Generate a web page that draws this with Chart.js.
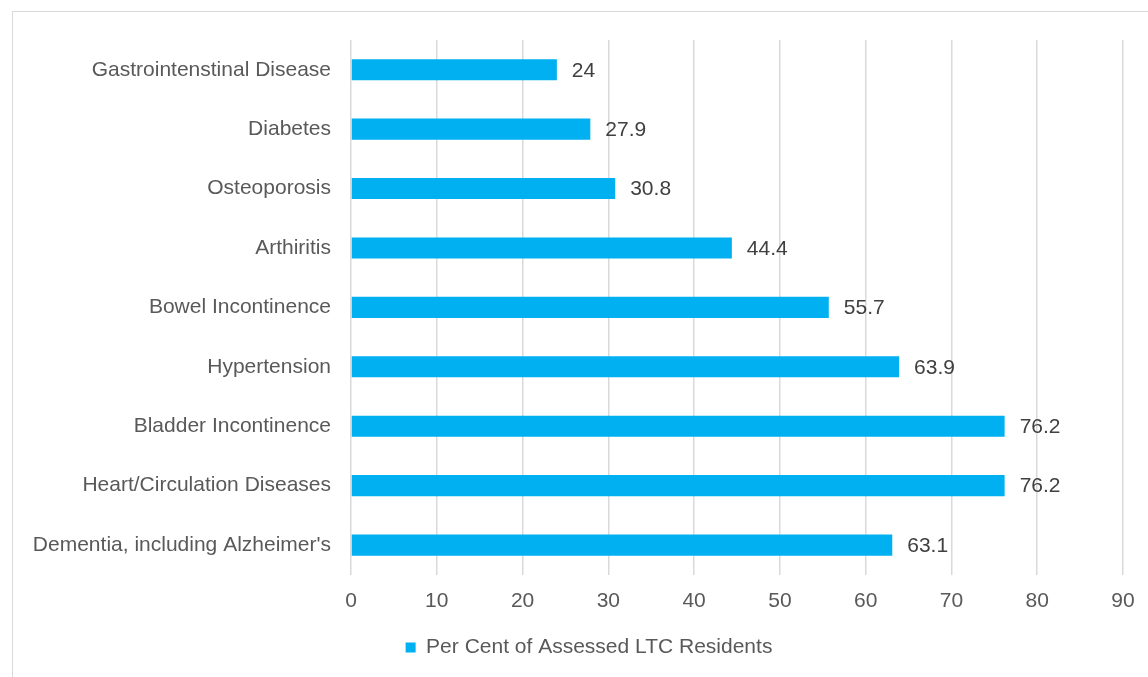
<!DOCTYPE html>
<html>
<head>
<meta charset="utf-8">
<script src="https://cdn.jsdelivr.net/npm/chart.js@4.4.1/dist/chart.umd.min.js"></script>
<style>
    html, body { margin: 0; padding: 0; background: #fff; overflow: hidden; }
    #box {
        position: absolute; left: 12px; top: 11px;
        width: 1158px; height: 700px;
        border: 1px solid #d9d9d9;
    }
</style>
</head>
<body>
<div id="box"><canvas id="chart" width="1158" height="700"></canvas></div>
<script>
    // Chart data (top to bottom as shown)
    const categories = [
        'Gastrointenstinal Disease',
        'Diabetes',
        'Osteoporosis',
        'Arthiritis',
        'Bowel Incontinence',
        'Hypertension',
        'Bladder Incontinence',
        'Heart/Circulation Diseases',
        "Dementia, including Alzheimer's"
    ];
    const residentPct = [24, 27.9, 30.8, 44.4, 55.7, 63.9, 76.2, 76.2, 63.1];
    const seriesLabel = 'Per Cent of Assessed LTC Residents';
    const axisMin = 0;
    const axisMax = 90;
    const axisStep = 10;

    const FONT = '"Liberation Sans", Arial, sans-serif';
    const FONT_SIZE = 21;

    // Value labels to the right of each bar
    const valueLabels = {
        id: 'valueLabels',
        afterDatasetsDraw(chart) {
            const ctx = chart.ctx;
            ctx.save();
            ctx.font = FONT_SIZE + 'px ' + FONT;
            ctx.fillStyle = '#404040';
            ctx.textAlign = 'left';
            ctx.textBaseline = 'middle';
            chart.getDatasetMeta(0).data.forEach((bar, i) => {
                ctx.fillText(String(residentPct[i]), bar.x + 15, bar.y + 1);
            });
            ctx.restore();
        }
    };

    // Centre the legend on the whole frame, not just the padded area
    const legendShift = {
        id: 'legendShift',
        afterLayout(chart) {
            if (chart.legend) {
                chart.legend.left += 21;
                chart.legend.right += 21;
            }
        }
    };

    new Chart(document.getElementById('chart'), {
        type: 'bar',
        data: {
            labels: categories,
            datasets: [{
                label: seriesLabel,
                data: residentPct,
                backgroundColor: '#00b0f0',
                borderWidth: 0,
                categoryPercentage: 1,
                barPercentage: 0.355
            }]
        },
        options: {
            indexAxis: 'y',
            responsive: false,
            animation: false,
            layout: { padding: { top: 28, right: 48, left: 0, bottom: 44 } },
            plugins: {
                legend: {
                    position: 'bottom',
                    labels: {
                        boxWidth: 10,
                        boxHeight: 10,
                        color: '#595959',
                        font: { family: FONT, size: FONT_SIZE },
                        padding: 9
                    }
                },
                tooltip: { enabled: false }
            },
            scales: {
                x: {
                    min: axisMin,
                    max: axisMax,
                    ticks: {
                        stepSize: axisStep,
                        color: '#595959',
                        font: { family: FONT, size: FONT_SIZE },
                        padding: 14
                    },
                    grid: { color: '#d9d9d9', lineWidth: 1.5, drawTicks: false },
                    border: { display: false }
                },
                y: {
                    ticks: {
                        color: '#595959',
                        font: { family: FONT, size: FONT_SIZE },
                        padding: 20
                    },
                    grid: { display: false, drawTicks: false },
                    border: { display: false },
                    afterFit(scale) {
                        scale.width = 338;
                        scale.paddingTop = 0;
                        scale.paddingBottom = 0;
                    }
                }
            }
        },
        plugins: [valueLabels, legendShift]
    });
</script>
</body>
</html>
